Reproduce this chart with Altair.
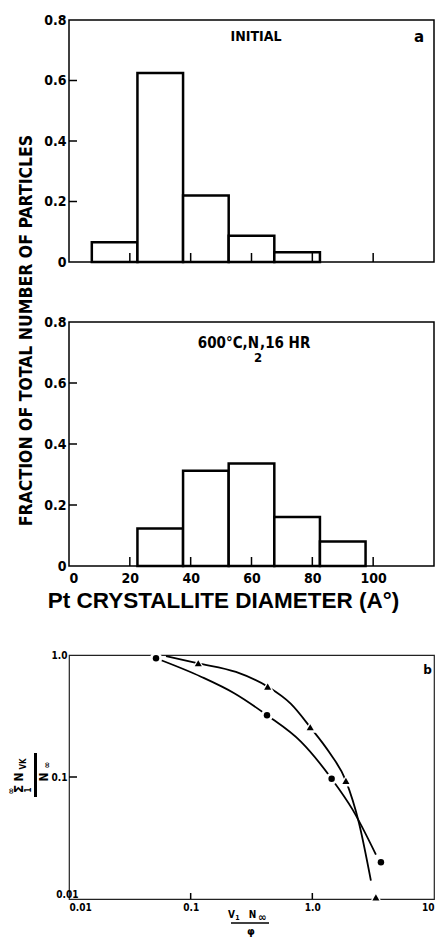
import altair as alt
import pandas as pd

# ---------------- data ----------------
# panel a : initial size distribution
bin_lo_a = [7.5, 22.5, 37.5, 52.5, 67.5]
bin_hi_a = [22.5, 37.5, 52.5, 67.5, 82.5]
frac_a = [0.065, 0.625, 0.22, 0.087, 0.032]

# panel a (lower) : after 600C, N2, 16 hr
bin_lo_b = [22.5, 37.5, 52.5, 67.5, 82.5]
bin_hi_b = [37.5, 52.5, 67.5, 82.5, 97.5]
frac_b = [0.123, 0.312, 0.336, 0.161, 0.080]

hist_x_ticks = [20, 40, 60, 80, 100]
hist_x_labels = [0, 20, 40, 60, 80, 100]
hist_y_ticks = [0.2, 0.4, 0.6]
hist_y_labels = [0, 0.2, 0.4, 0.6, 0.8]

# panel b : log-log plot
circ_x = [0.0519, 0.424, 1.441, 3.663]
circ_y = [0.940, 0.321, 0.0967, 0.020]
tri_x = [0.1155, 0.4296, 0.961, 1.888, 3.33]
tri_y = [0.855, 0.5505, 0.256, 0.093, 0.0103]

curve_circ_x = [0.0519, 0.1216, 0.228, 0.424, 0.805, 1.441, 2.143, 3.332]
curve_circ_y = [0.940, 0.664, 0.486, 0.321, 0.195, 0.0967, 0.054, 0.0231]
curve_tri_x = [0.0627, 0.1155, 0.2356, 0.4296, 0.667, 0.961, 1.369, 1.888, 2.415, 3.03]
curve_tri_y = [0.981, 0.855, 0.726, 0.5505, 0.397, 0.256, 0.1608, 0.093, 0.0422, 0.01415]

log_x_labels = [0.01, 0.1, 1, 10]
log_y_labels = [0.01, 0.1, 1]
log_x_ticks = [0.1, 1]
log_y_ticks = [0.1]

# ---------------- style ----------------
FONT = "'Liberation Sans Narrow', 'DejaVu Sans Condensed', Roboto, sans-serif"
W = 365
HA, HB, HC = 242, 244, 244
one = pd.DataFrame({"k": [0]})


def note(text, x, y, size, angle=0, align="center", baseline="alphabetic",
         font=FONT, weight="bold"):
    kw = dict(text=text, fontSize=size, font=font, fontWeight=weight,
              align=align, baseline=baseline, color="black")
    if angle:
        kw["angle"] = angle
    return alt.Chart(one).mark_text(**kw).encode(x=alt.value(x), y=alt.value(y))


def hist(lo, hi, frac, H, xaxis, yaxis, notes):
    df = pd.DataFrame({"lo": lo, "hi": hi, "f": frac})
    xs = alt.Scale(domain=[0, 120], nice=False, zero=False)
    ys = alt.Scale(domain=[0, 0.8], nice=False)
    bars = alt.Chart(df).mark_rect(fill="white", stroke="black", strokeWidth=2.5).encode(
        x=alt.X("lo:Q", scale=xs, axis=xaxis), x2="hi:Q",
        y=alt.Y("f:Q", scale=ys, axis=yaxis), y2=alt.datum(0))
    xt = alt.Chart(pd.DataFrame({"t": hist_x_ticks})).mark_rule(color="black", strokeWidth=1.5).encode(
        x=alt.X("t:Q", scale=xs, axis=xaxis), y=alt.value(H), y2=alt.value(H - 9))
    yt = alt.Chart(pd.DataFrame({"t": hist_y_ticks})).mark_rule(color="black", strokeWidth=1.5).encode(
        y=alt.Y("t:Q", scale=ys, axis=yaxis), x=alt.value(0), x2=alt.value(8))
    return alt.layer(bars, xt, yt, *notes).properties(width=W, height=H)


yexpr = "datum.value == 0 ? '0' : format(datum.value, '.1f')"
y_axis_a = alt.Axis(values=hist_y_labels, labelExpr=yexpr, labelFontSize=14, labelPadding=3, title=None)
y_axis_b = alt.Axis(values=hist_y_labels, labelExpr=yexpr, labelFontSize=14, labelPadding=3,
                    title="FRACTION OF TOTAL NUMBER OF PARTICLES", titleFont=FONT, titleFontSize=17.5,
                    titleFontWeight="bold", titleColor="black", titleAngle=270, titleX=-43, titleY=8,
                    titleAlign="center", titleBaseline="middle")
x_axis_b = alt.Axis(values=hist_x_labels, format="d", labelFontSize=14, labelPadding=5,
                    title="Pt CRYSTALLITE DIAMETER (A°)", titleFont="Liberation Sans", titleFontSize=22.5,
                    titleFontWeight="bold", titleColor="black", titleX=154, titleY=41,
                    titleAlign="center", titleBaseline="alphabetic")

panel_a = hist(bin_lo_a, bin_hi_a, frac_a, HA, None, y_axis_a, [
    note("INITIAL", 187, 21, 14),
    note("a", 350, 22, 15, font="DejaVu Sans"),
])
panel_b = hist(bin_lo_b, bin_hi_b, frac_b, HB, x_axis_b, y_axis_b, [
    note("600°C,N", 190, 26, 15, align="right"),
    note("2", 189, 40, 13),
    note(",16 HR", 191, 26, 15, align="left"),
])

# ---------------- log-log panel ----------------
xs_c = alt.Scale(type="log", domain=[0.01, 10], nice=False)
ys_c = alt.Scale(type="log", domain=[0.01, 1], nice=False)
xlab = "datum.value > 5 ? '10' : datum.value > 0.5 ? '1.0' : datum.value > 0.05 ? '0.1' : '0.01'"
ylab = "datum.value > 0.5 ? '1.0' : datum.value > 0.05 ? '0.1' : '0.01'"
x_axis_c = alt.Axis(values=log_x_labels, labelExpr=xlab, labelFontSize=10, labelPadding=3, title=None)
y_axis_c = alt.Axis(values=log_y_labels, labelExpr=ylab, labelFontSize=10, title=None,
                    labelPadding={"condition": {"test": "datum.value < 0.05", "value": -9}, "value": 2},
                    labelBaseline={"condition": {"test": "datum.value < 0.05", "value": "bottom"}, "value": "middle"})


def enc_c(chart):
    return chart.encode(x=alt.X("x:Q", scale=xs_c, axis=x_axis_c),
                        y=alt.Y("y:Q", scale=ys_c, axis=y_axis_c))


line_c = enc_c(alt.Chart(pd.DataFrame({"x": curve_circ_x, "y": curve_circ_y})).mark_line(
    interpolate="monotone", color="black", strokeWidth=1.8))
line_t = enc_c(alt.Chart(pd.DataFrame({"x": curve_tri_x, "y": curve_tri_y})).mark_line(
    interpolate="monotone", color="black", strokeWidth=1.8))

circ_df = pd.DataFrame({"x": circ_x, "y": circ_y})
tri_df = pd.DataFrame({"x": tri_x, "y": tri_y})


def pts(df, shape, size, color):
    return enc_c(alt.Chart(df).mark_point(shape=shape, filled=True, color=color, size=size, opacity=1))


halo_c = pts(circ_df, "circle", 150, "white")
halo_t = pts(tri_df, "triangle-up", 170, "white")
dot_c = pts(circ_df, "circle", 42, "black")
dot_t = pts(tri_df, "triangle-up", 50, "black")

xt_c = alt.Chart(pd.DataFrame({"x": log_x_ticks})).mark_rule(color="black", strokeWidth=1.5).encode(
    x=alt.X("x:Q", scale=xs_c, axis=x_axis_c), y=alt.value(HC), y2=alt.value(HC - 6))
yt_c = alt.Chart(pd.DataFrame({"y": log_y_ticks})).mark_rule(color="black", strokeWidth=1.5).encode(
    y=alt.Y("y:Q", scale=ys_c, axis=y_axis_c), x=alt.value(0), x2=alt.value(8))

bar_y = alt.Chart(one).mark_rule(color="black", strokeWidth=3).encode(
    x=alt.value(-33.5), y=alt.value(98), y2=alt.value(142))
bar_x = alt.Chart(one).mark_rule(color="black", strokeWidth=1.5).encode(
    x=alt.value(162), x2=alt.value(200), y=alt.value(268))

notes_c = [
    note("b", 358.5, 19, 12, font="DejaVu Sans"),
    note("∞", -58.5, 136, 9, angle=270, baseline="middle"),
    note("Σ", -50.5, 134, 12, angle=270, baseline="middle", font="DejaVu Sans"),
    note("1", -40.5, 135, 8, angle=270, baseline="middle"),
    note("N", -50.5, 122, 12, angle=270, baseline="middle"),
    note("VK", -45.5, 109, 8, angle=270, baseline="middle"),
    note("N", -25, 122, 12, angle=270, baseline="middle"),
    note("∞", -22.5, 110, 9, angle=270, baseline="middle"),
    note("V", 162.5, 263, 10),
    note("1", 168.5, 265, 7),
    note("N", 183.5, 263, 10),
    note("∞", 193, 266, 11),
    note("φ", 182, 280, 10, font="DejaVu Sans"),
]

panel_c = alt.layer(line_c, line_t, halo_c, halo_t, dot_c, dot_t, xt_c, yt_c, bar_y, bar_x,
                    *notes_c).properties(width=W, height=HC,
                                         view=alt.ViewBackground(stroke="#222222", strokeWidth=1.2))


def spacer(h):
    return alt.Chart(one).mark_point(opacity=0).encode(
        x=alt.X("k:Q", axis=None), y=alt.Y("k:Q", axis=None)).properties(
        width=W, height=h, view=alt.ViewBackground(strokeOpacity=0, strokeWidth=0))


chart = alt.vconcat(panel_a, spacer(40), panel_b, spacer(69), panel_c,
                    spacing=10, bounds="flush").properties(
    padding={"left": 5, "top": 12, "right": 0, "bottom": 0}, background="white"
).configure_view(stroke="black", strokeWidth=1.5).configure_axis(
    grid=False, ticks=False, domain=False, labelFont=FONT, labelFontWeight="bold", labelColor="black")

chart.save("out.html", embed_options={"renderer": "svg", "actions": False})
